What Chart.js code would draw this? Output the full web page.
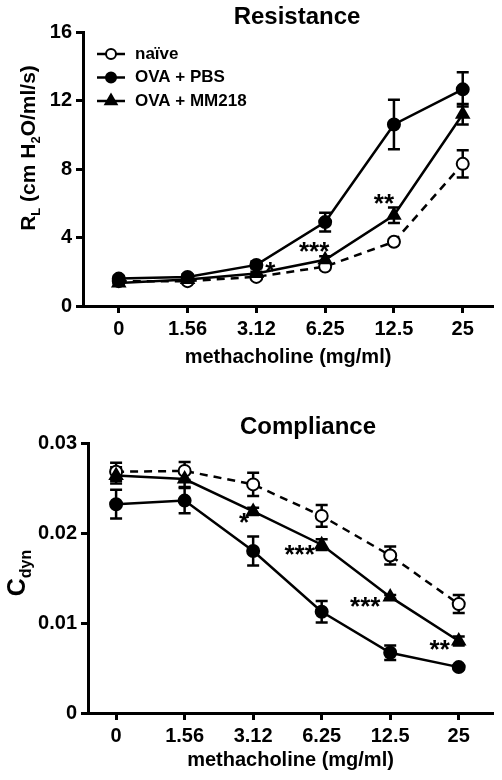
<!DOCTYPE html>
<html>
<head>
<meta charset="utf-8">
<script src="https://cdn.jsdelivr.net/npm/chart.js"></script>
<style>
  body { margin: 0; background: #fff; }
  canvas { display: block; }
</style>
</head>
<body>
<canvas id="resChart" width="502" height="390"></canvas>
<canvas id="compChart" width="502" height="390"></canvas>
<script>
// doses on the x axis
const doses = ['0', '1.56', '3.12', '6.25', '12.5', '25'];
const groups = ['naïve', 'OVA + PBS', 'OVA + MM218'];

// Resistance (RL)
const resNaive = [1.45, 1.45, 1.7, 2.3, 3.75, 8.3];
const resNaiveErr = [0.1, 0.1, 0.1, 0.15, 0.15, 0.8];
const resPbs = [1.6, 1.7, 2.4, 4.9, 10.6, 12.65];
const resPbsErr = [0.15, 0.15, 0.2, 0.55, 1.45, 1.0];
const resMm = [1.35, 1.55, 1.9, 2.7, 5.3, 11.2];
const resMmErr = [0.1, 0.1, 0.1, 0.2, 0.45, 0.6];
const resTicks = [0, 4, 8, 12, 16];
const resStarText = ['', '', '*', '***', '**', ''];
const resStarVal = [null, null, 2.39, 3.56, 6.36, null];

// Compliance (Cdyn)
const compNaive = [0.0268, 0.0269, 0.0254, 0.0219, 0.0175, 0.0121];
const compNaiveErr = [0.001, 0.001, 0.0013, 0.0012, 0.001, 0.001];
const compPbs = [0.0232, 0.0236, 0.0180, 0.01125, 0.0067, 0.0051];
const compPbsErr = [0.0016, 0.0014, 0.0016, 0.0012, 0.0008, 0.0002];
const compMm = [0.0264, 0.0260, 0.0224, 0.0187, 0.0129, 0.0080];
const compMmErr = [0.0009, 0.0009, 0.0004, 0.0006, 0.0002, 0.0005];
const compTicks = ['0', '0.01', '0.02', '0.03'];
const compStarText = ['', '', '*', '***', '***', '**'];
const compStarVal = [null, null, 0.0219, 0.0183, 0.0126, 0.0078];

const FONT = "'Liberation Sans', Arial, Helvetica, sans-serif";
Chart.defaults.font.family = FONT;
Chart.defaults.color = '#000';

function marker(ctx, style, x, y, r, fill) {
  ctx.beginPath();
  if (style === 'triangle') {
    ctx.moveTo(x, y - r);
    ctx.lineTo(x + r * 0.866, y + r * 0.5);
    ctx.lineTo(x - r * 0.866, y + r * 0.5);
    ctx.closePath();
  } else {
    ctx.arc(x, y, r, 0, Math.PI * 2);
  }
  ctx.fillStyle = fill;
  ctx.fill();
  ctx.stroke();
}

function drawRich(ctx, parts, cx, cy) {
  ctx.save();
  ctx.translate(cx, cy);
  ctx.rotate(-Math.PI / 2);
  let total = 0;
  parts.forEach(p => {
    ctx.font = 'bold ' + p.size + 'px ' + FONT;
    p.w = ctx.measureText(p.t).width;
    total += p.w;
  });
  let x = -total / 2;
  ctx.textBaseline = 'middle';
  ctx.textAlign = 'left';
  ctx.fillStyle = '#000';
  parts.forEach(p => {
    ctx.font = 'bold ' + p.size + 'px ' + FONT;
    ctx.fillText(p.t, x, p.dy);
    x += p.w;
  });
  ctx.restore();
}

const figPlugin = {
  id: 'fig',
  beforeDatasetsDraw(chart) {
    const ctx = chart.ctx, ys = chart.scales.y;
    ctx.save();
    ctx.strokeStyle = '#000';
    ctx.lineWidth = 2.5;
    chart.data.datasets.forEach((ds, i) => {
      const meta = chart.getDatasetMeta(i);
      meta.data.forEach((pt, j) => {
        const v = ds.data[j].y, e = ds.err[j];
        const top = ys.getPixelForValue(v + e), bot = ys.getPixelForValue(v - e);
        ctx.beginPath();
        ctx.moveTo(pt.x, top); ctx.lineTo(pt.x, bot);
        ctx.moveTo(pt.x - 6, top); ctx.lineTo(pt.x + 6, top);
        ctx.moveTo(pt.x - 6, bot); ctx.lineTo(pt.x + 6, bot);
        ctx.stroke();
      });
    });
    ctx.restore();
  },
  afterDraw(chart, args, opts) {
    const ctx = chart.ctx, xs = chart.scales.x, ys = chart.scales.y;
    ctx.save();
    // title
    ctx.fillStyle = '#000';
    ctx.font = 'bold 24px ' + FONT;
    ctx.textAlign = 'center';
    ctx.textBaseline = 'middle';
    ctx.fillText(opts.title, opts.titleX, opts.titleY);
    // y axis title with subscripts
    drawRich(ctx, opts.yTitle, opts.yTitleX, opts.yTitleY);
    // significance stars
    ctx.font = 'bold 26px ' + FONT;
    ctx.textAlign = 'center';
    ctx.textBaseline = 'alphabetic';
    opts.starText.forEach((s, i) => {
      if (!s) return;
      const x = xs.getPixelForValue(i) + opts.starDx[i];
      const y = ys.getPixelForValue(opts.starVal[i]) + 15;
      ctx.fillText(s, x, y);
    });
    // legend
    if (opts.legend) {
      const sty = ['circle', 'circle', 'triangle'];
      const fills = ['#fff', '#000', '#000'];
      ctx.font = 'bold 17px ' + FONT;
      ctx.textAlign = 'left';
      ctx.textBaseline = 'middle';
      groups.forEach((g, i) => {
        const y = 54 + i * 23.5;
        ctx.strokeStyle = '#000';
        ctx.lineWidth = 2.5;
        ctx.beginPath();
        ctx.moveTo(97, y); ctx.lineTo(125, y);
        ctx.stroke();
        ctx.lineWidth = 2;
        marker(ctx, sty[i], 111, y, sty[i] === 'triangle' ? 6.5 : 5, fills[i]);
        ctx.fillStyle = '#000';
        ctx.fillText(g, 135, y);
      });
    }
    ctx.restore();
  }
};

function series(label, vals, errs, extra) {
  return Object.assign({
    label: label,
    data: vals.map((v, i) => ({x: i, y: v})),
    err: errs,
    borderColor: '#000',
    borderWidth: 2.5,
    pointRadius: 6,
    pointBorderWidth: 2,
    pointBorderColor: '#000',
    pointBackgroundColor: '#000',
    tension: 0,
    fill: false
  }, extra);
}

function axisCommon() {
  return {
    border: {display: true, color: '#000', width: 3},
    grid: {display: true, drawOnChartArea: false, drawTicks: true, tickLength: 7, tickWidth: 3, tickColor: '#000'}
  };
}

function makeChart(id, cfg) {
  const x = Object.assign(axisCommon(), {
    type: 'linear',
    min: cfg.xMin,
    max: cfg.xMax,
    ticks: {stepSize: 1, includeBounds: false, padding: 4, font: {size: 20, weight: 'bold'},
      callback: v => doses[v] !== undefined ? doses[v] : ''},
    afterBuildTicks: s => { s.ticks = s.ticks.filter(t => Number.isInteger(t.value)); },
    title: {display: true, text: 'methacholine (mg/ml)', font: {size: 20, weight: 'bold'}, padding: {top: 0, bottom: cfg.xTitlePad}},
    afterFit: s => { s.height = cfg.xHeight; }
  });
  const y = Object.assign(axisCommon(), {
    min: cfg.yMin,
    max: cfg.yMax,
    ticks: {stepSize: cfg.yStep, padding: 4, font: {size: 20, weight: 'bold'}, callback: cfg.yLabel},
    afterFit: s => { s.width = cfg.yWidth; }
  });
  return new Chart(document.getElementById(id), {
    type: 'line',
    data: {datasets: cfg.datasets},
    options: {
      responsive: false,
      animation: false,
      devicePixelRatio: 1,
      layout: {padding: {top: cfg.padTop, right: 9, bottom: 0, left: 0}},
      plugins: {legend: {display: false}, tooltip: {enabled: false}, fig: cfg.fig},
      scales: {x: x, y: y}
    },
    plugins: [figPlugin]
  });
}

makeChart('resChart', {
  xMin: -0.52, xMax: 5.44, xHeight: 84, xTitlePad: 21,
  yMin: 0, yMax: 16, yStep: 4, yWidth: 83, padTop: 32,
  yLabel: v => resTicks.includes(v) ? String(v) : '',
  datasets: [
    series(groups[0], resNaive, resNaiveErr, {borderDash: [8, 6], pointBackgroundColor: '#fff', order: 3}),
    series(groups[1], resPbs, resPbsErr, {order: 1}),
    series(groups[2], resMm, resMmErr, {pointStyle: 'triangle', pointRadius: 7, order: 2})
  ],
  fig: {
    title: 'Resistance', titleX: 297, titleY: 17,
    yTitle: [
      {t: 'R', size: 21, dy: 0}, {t: 'L', size: 13, dy: 7},
      {t: ' (cm H', size: 21, dy: 0}, {t: '2', size: 13, dy: 7},
      {t: 'O/ml/s)', size: 21, dy: 0}
    ],
    yTitleX: 29, yTitleY: 148,
    starText: resStarText, starVal: resStarVal, starDx: [0, 0, 14, -11, -10, 0],
    legend: true
  }
});

makeChart('compChart', {
  xMin: -0.41, xMax: 5.5, xHeight: 67, xTitlePad: 8,
  yMin: 0, yMax: 0.03, yStep: 0.01, yWidth: 88, padTop: 53,
  yLabel: v => compTicks[Math.round(v * 100)],
  datasets: [
    series(groups[0], compNaive, compNaiveErr, {borderDash: [8, 6], pointBackgroundColor: '#fff', order: 3}),
    series(groups[1], compPbs, compPbsErr, {order: 1}),
    series(groups[2], compMm, compMmErr, {pointStyle: 'triangle', pointRadius: 7, order: 2})
  ],
  fig: {
    title: 'Compliance', titleX: 308, titleY: 37,
    yTitle: [{t: 'C', size: 25, dy: 0}, {t: 'dyn', size: 16, dy: 9}],
    yTitleX: 18, yTitleY: 183,
    starText: compStarText, starVal: compStarVal, starDx: [0, 0, -9, -22, -25, -19],
    legend: false
  }
});
</script>
</body>
</html>
